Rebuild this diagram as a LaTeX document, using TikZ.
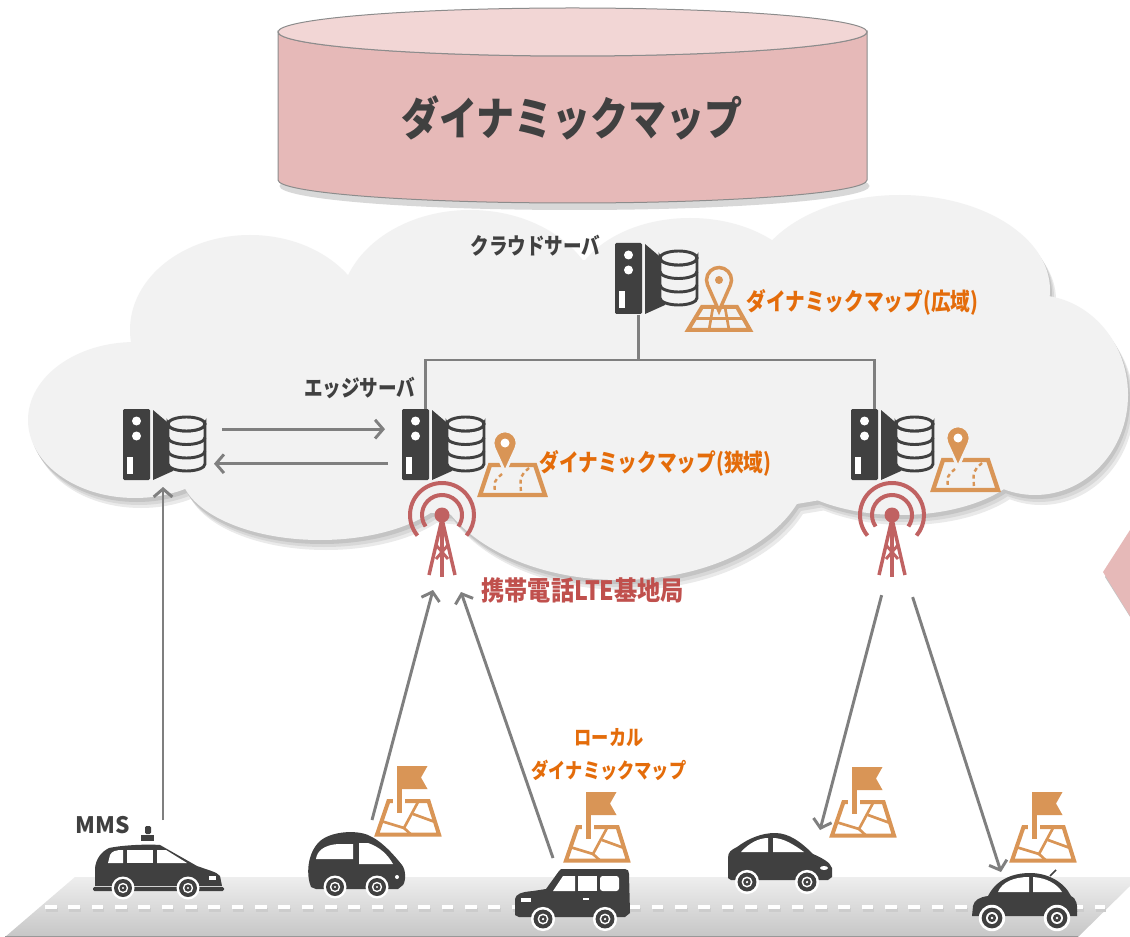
\documentclass[tikz,border=0pt]{standalone}
\usepackage{fontspec}
\usepackage{graphicx}
\setmainfont{Noto Sans CJK JP}
\usetikzlibrary{arrows.meta,calc}

\definecolor{icongray}{HTML}{404040}
\definecolor{linegray}{HTML}{7F7F7F}
\definecolor{cloudgray}{HTML}{F2F2F2}
\definecolor{shadowA}{HTML}{C4C4C4}
\definecolor{shadowB}{HTML}{D8D8D8}
\definecolor{shadowC}{HTML}{EAEAEA}
\definecolor{dbside}{HTML}{E6B9B8}
\definecolor{dbtop}{HTML}{F2D6D5}
\definecolor{dbrim}{HTML}{8C8C8C}
\definecolor{maporange}{HTML}{D99556}
\definecolor{textorange}{HTML}{E46C0A}
\definecolor{antred}{HTML}{C06262}
\definecolor{textred}{HTML}{C0504D}
\definecolor{roadtop}{HTML}{EEEEEE}
\definecolor{roadbot}{HTML}{C6C6C6}

% condensed lettering
\newcommand{\narrow}[2][0.82]{\scalebox{#1}[1]{#2}}

\tikzset{every picture/.style={line width=0.75pt}}
\tikzset{
  link/.style={draw=linegray, line width=2.2pt},
  flow/.style={link, -{Straight Barb[length=6pt,width=14pt]}},
  lbl/.style={inner sep=0pt, text=icongray, font=\bfseries\fontsize{17}{20}\selectfont},
  maplbl/.style={inner sep=0pt, text=textorange, font=\bfseries\fontsize{18}{22}\selectfont},
  wheel/.pic={
    \fill[white] (0,0) circle[radius=11.5];
    \fill[icongray] (0,0) circle[radius=9];
    \fill[white] (0,0) circle[radius=5.2];
    \fill[icongray] (0,0) circle[radius=3.6];
    \fill[white] (0,0) circle[radius=1.2];
  },
  server/.pic={
    \begin{scope}[yscale=-1]
    % tower
    \fill[icongray, rounded corners=1pt] (0,0) rectangle (27,71);
    \fill[white] (13.5,12) circle[radius=4.5] (13.5,27) circle[radius=4.5];
    \fill[white] (4,48) rectangle (9.5,65);
    % wedge
    \fill[icongray] (30,1) -- (50,18) -- (50,62) -- (30,71) -- cycle;
    % disks
    \filldraw[fill=cloudgray, draw=icongray, line width=2.2pt]
      (45,15) -- (45,55) arc[start angle=180, end angle=0, x radius=18.5, y radius=7]
      -- (82,15) arc[start angle=0, end angle=180, x radius=18.5, y radius=7] -- cycle;
    \filldraw[fill=cloudgray, draw=icongray, line width=2.2pt] (63.5,15) ellipse[x radius=18.5, y radius=7];
    \foreach \yy in {28.5,42}
      \draw[icongray, line width=2.2pt] (45,\yy) arc[start angle=180, end angle=0, x radius=18.5, y radius=7];
    \node[inner sep=0, minimum width=34.5pt, minimum height=53.25pt, anchor=north west] (-tw) at (0,0) {};
    \node[inner sep=0, minimum width=27.75pt, minimum height=53.25pt, anchor=north west] (-db) at (45,0) {};
    \end{scope}
  },
  lte/.pic={
    \begin{scope}[yscale=-1]
    \draw[antred, line width=3pt] (145:20) arc[start angle=145, end angle=395, radius=20];
    \draw[antred, line width=3pt] (140:32) arc[start angle=140, end angle=400, radius=32];
    \fill[antred] (0,0) circle[radius=7.5];
    \draw[antred, line width=2.6pt, line join=round] (-13,60) -- (0,4) -- (13,60);
    \draw[antred, line width=2.6pt] (0,4) -- (0,62);
    \draw[antred, line width=2.2pt] (-6,30) -- (6,44) (6,30) -- (-6,44);
    \coordinate (-l) at (-9,75);
    \coordinate (-r) at (19,77);
    \end{scope}
  },
  routemap/.pic={
    \begin{scope}[yscale=-1]
    \draw[maporange, line width=3.2pt] (-15,22) -- (30,22) -- (40,52) -- (-25,52) -- cycle;
    \draw[maporange, line width=1.8pt, dash pattern=on 3pt off 2.5pt] (-3,31) .. controls (-11,38) .. (-10,50);
    \draw[maporange, line width=1.8pt, dash pattern=on 3pt off 2.5pt] (24,25) .. controls (15,33) .. (16,50);
    \filldraw[fill=maporange, draw=cloudgray, line width=2pt] (0,29) -- (24.44:12) arc[start angle=24.44, end angle=-204.44, radius=12] -- cycle;
    \fill[white] (0,0) circle[radius=4.5];
    \end{scope}
  },
  gridmap/.pic={
    \begin{scope}[yscale=-1]
    \draw[maporange, line width=3pt] (-17,27) -- (18,27) -- (31,50) -- (-31,50) -- cycle;
    \draw[maporange, line width=2pt] (-24,38.5) -- (24.5,38.5);
    \draw[maporange, line width=2pt] (-6,27) -- (-10,50) (6,27) -- (10,50);
    \filldraw[fill=cloudgray, draw=maporange, line width=2.6pt] (0,31) -- (23.8:12.5) arc[start angle=23.8, end angle=-203.8, radius=12.5] -- cycle;
    \fill[maporange] (0,0) circle[radius=4];
    \end{scope}
  },
  flagmap/.pic={
    \begin{scope}[yscale=-1]
    \draw[maporange, line width=3pt] (-19.5,-35) -- (20.5,-35) -- (31,-1.5) -- (-31,-1.5) -- cycle;
    \draw[maporange, line width=2pt] (-27,-15) -- (-4,-8) -- (10,-34);
    \draw[maporange, line width=2pt] (-4,-8) -- (3,-1.5) (5,-22) -- (27,-14);
    \fill[white] (-15,-37) rectangle (-3,-21);
    \fill[maporange] (-11.5,-70) rectangle (-6.5,-23);
    \fill[maporange] (-6.5,-70) -- (19.5,-70) -- (13,-58.5) -- (19.5,-47) -- (-6.5,-47) -- cycle;
    \end{scope}
  }
}

\begin{document}
\begin{tikzpicture}[x=0.75pt,y=0.75pt,yscale=-1,xscale=1]
\useasboundingbox (0,0) rectangle (1130,937);
\fill[white] (0,0) rectangle (1130,937);

%Cloud: shadow, then body
\def\cloudlobes{135/420/107/78, 250/330/120/95, 470/310/130/100, 690/300/120/82, 900/290/150/95, 1035/395/93/100, 900/450/130/65, 620/460/190/120, 320/470/140/70, 580/390/450/130}
\foreach \dx/\dy/\shc in {6/10/shadowC, 4/7/shadowB, 2/4/shadowA}
  \foreach \cx/\cy/\rx/\ry in \cloudlobes
    \fill[\shc] (\cx+\dx,\cy+\dy) ellipse[x radius=\rx, y radius=\ry];
\foreach \cx/\cy/\rx/\ry in \cloudlobes
  \fill[cloudgray] (\cx,\cy) ellipse[x radius=\rx, y radius=\ry];

%Dynamic map cylinder
\fill[shadowB] (574.5,186) ellipse[x radius=295, y radius=24];
\filldraw[fill=dbside, draw=dbrim] (278,32) -- (278,180) arc[start angle=180, end angle=0, x radius=294.5, y radius=23]
  -- (867,32) arc[start angle=0, end angle=180, x radius=294.5, y radius=24] -- cycle;
\filldraw[fill=dbtop, draw=dbrim] (572.5,32) ellipse[x radius=294.5, y radius=24];
\node[text=icongray, font=\bfseries\fontsize{34}{40}\selectfont] (dmtitle) at (572,118) {\narrow[0.84]{ダイナミックマップ}};

%Servers
\pic (cs) at (615,243) {server};
\pic (el) at (123,409) {server};
\pic (em) at (402,409) {server};
\pic (er) at (851,409) {server};

%Cloud to edge links
\coordinate (bus) at (cs-tw.south |- 0,360);
\draw[link] (cs-tw.south) -- (bus);
\draw[link] (em-tw.north) |- (bus) -| (er-tw.north);

%Edge to edge
\draw[flow, shorten <=12pt, shorten >=12.75pt] ($(el-db.east)!.44!(el-db.north east)$) -- ($(em-tw.west)!.44!(em-tw.north west)$);
\draw[flow, shorten <=10.5pt, shorten >=6pt] ($(em-tw.west)!.52!(em-tw.south west)$) -- ($(el-db.east)!.52!(el-db.south east)$);

%Map icons
\pic at (719,280) {gridmap};
\pic at (505,443) {routemap};
\pic at (958,438) {routemap};

%Base stations
\pic (lte1) at (442,515) {lte};
\pic (lte2) at (892,515) {lte};

%Labels
\node[lbl, anchor=east] (cslbl) at (601,246) {\narrow{クラウドサーバ}};
\node[lbl, anchor=east] (edgelbl) at (416,388) {\narrow{エッジサーバ}};
\node[maplbl, anchor=west] (widelbl) at (746,302) {\narrow{ダイナミックマップ(広域)}};
\node[maplbl, anchor=west] (narrowlbl) at (539,463) {\narrow{ダイナミックマップ(狭域)}};
\node[inner sep=0pt, text=textred, font=\bfseries\fontsize{20}{24}\selectfont, anchor=west] (ltelbl) at (481,590) {\narrow[0.87]{携帯電話LTE基地局}};
\node[maplbl, font=\bfseries\fontsize{15.75}{19}\selectfont] (locallbl) at (609,738) {\narrow{ローカル}};
\node[maplbl, font=\bfseries\fontsize{15.75}{19}\selectfont] (locallbl2) at (609,770) {\narrow{ダイナミックマップ}};
\node[lbl, font=\bfseries\fontsize{17}{20}\selectfont] (mmslbl) at (103,825) {MMS};

%Road
\shade[top color=roadtop, bottom color=roadbot] (75,877) -- (1130,877) -- (1130,886) -- (1078,937) -- (5,937) -- cycle;
\draw[linegray!80, line width=1pt] (5,936.5) -- (1078,936.5);
\draw[gray!40, line width=3pt, dash pattern=on 8.75pt off 8.75pt] (46,909.5) -- (1106,909.5);
\draw[white, line width=3pt, dash pattern=on 8.75pt off 8.75pt] (45,907) -- (1105,907);

%Car MMS
\begin{scope}[shift={(93,892)}]
  \fill[icongray, rounded corners=1pt] (52,-66) rectangle (58,-58);
  \fill[icongray] (48,-57) rectangle (61,-51);
  \fill[icongray] (2,-6) -- (2,-24) .. controls (3,-33) and (8,-40) .. (16,-44) .. controls (30,-47) and (55,-48) .. (67,-47)
    -- (104,-26) .. controls (115,-22) and (124,-20) .. (127,-16) -- (129,-6) -- cycle;
  \fill[white] (15,-29) -- (17,-37) .. controls (19,-41) and (23,-42) .. (30,-42) -- (30,-29) -- cycle;
  \fill[white] (34,-42) rectangle (60,-29);
  \fill[white] (64,-42) -- (73,-42) -- (94,-29) -- (64,-29) -- cycle;
  \fill[white] (116,-16) rectangle (123,-12);
  \fill[icongray, rounded corners=1pt] (0,-5) rectangle (131,-1);
  \coordinate (mms) at (70,-72);
  \pic at (30,-4) {wheel};
  \pic at (95,-4) {wheel};
\end{scope}

%Car hatchback
\begin{scope}[shift={(308,897)}]
  \fill[icongray] (3,-10) .. controls (-2,-22) and (-1,-44) .. (12,-56) .. controls (24,-66) and (48,-67) .. (60,-62)
    .. controls (74,-56) and (86,-42) .. (94,-32) .. controls (98,-27) and (98,-16) .. (95,-12) -- (90,-8) -- (8,-8) -- cycle;
  \fill[white] (8,-38) .. controls (9,-46) and (16,-52) .. (30,-53) -- (45,-53) -- (45,-38) -- cycle;
  \fill[white] (51,-54) -- (60,-54) .. controls (72,-50) and (80,-42) .. (85,-33) -- (51,-33) -- cycle;
  \fill[white] (89,-20) circle[radius=2];
  \coordinate (car2) at (64,-77);
  \pic at (27,-10) {wheel};
  \pic at (69,-10) {wheel};
\end{scope}

%Car minivan
\begin{scope}[shift={(513,925)}]
  \fill[icongray] (2,-10) -- (2,-26) .. controls (3,-31) and (8,-33) .. (20,-34) -- (33,-36) -- (46,-54)
    .. controls (47,-56) and (48,-56) .. (52,-56) -- (112,-56) .. controls (115,-56) and (116,-54) .. (116,-51)
    -- (117,-12) -- (112,-8) -- (6,-8) -- cycle;
  \fill[white] (50,-49) -- (62,-49) -- (62,-34) -- (40,-34) -- cycle;
  \fill[white] (65,-49) rectangle (84,-34);
  \fill[white, rounded corners=2pt] (87,-49) rectangle (106,-34);
  \fill[white] (70,-27) rectangle (76,-25);
  \fill[white] (8,-27) rectangle (18,-23);
  \coordinate (car3) at (40,-67);
  \pic[scale=1.05] at (30,-6) {wheel};
  \pic[scale=1.05] at (92,-6) {wheel};
\end{scope}

%Car sedan
\begin{scope}[shift={(727,890)}]
  \fill[icongray] (1,-12) -- (1,-32) .. controls (1,-38) and (4,-40) .. (10,-43) .. controls (22,-52) and (35,-57) .. (48,-57)
    .. controls (62,-57) and (74,-48) .. (86,-36) .. controls (95,-32) and (103,-28) .. (105,-22) -- (105,-13) -- (101,-10) -- (4,-10) -- cycle;
  \fill[white] (14,-38) .. controls (22,-47) and (32,-52) .. (41,-52) -- (41,-38) -- cycle;
  \fill[white] (46,-52) .. controls (56,-52) and (66,-46) .. (77,-38) -- (46,-38) -- cycle;
  \fill[white] (97,-22) ellipse[x radius=4, y radius=2];
  \coordinate (car4) at (93,-60);
  \pic[scale=1.05] at (20,-8) {wheel};
  \pic[scale=1.05] at (80,-8) {wheel};
\end{scope}

%Car beetle
\begin{scope}[shift={(972,930)}]
  \draw[icongray, line width=1.2pt] (78,-54) -- (84,-60);
  \fill[icongray] (0,-14) -- (1,-24) .. controls (2,-30) and (8,-33) .. (16,-34) .. controls (24,-50) and (40,-57) .. (58,-57)
    .. controls (76,-57) and (92,-48) .. (99,-34) .. controls (104,-32) and (106,-26) .. (105,-14) -- cycle;
  \fill[white] (26,-38) .. controls (30,-48) and (42,-53) .. (57,-53) -- (57,-38) -- cycle;
  \fill[white] (61,-53) .. controls (75,-52) and (85,-46) .. (90,-38) -- (61,-38) -- cycle;
  \coordinate (car5) at (29,-58);
  \pic[scale=1.15] at (20,-12) {wheel};
  \pic[scale=1.15] at (85,-12) {wheel};
\end{scope}

%Uplinks and downlinks
\draw[flow, shorten >=4.5pt] (mms) -- (mms |- el-tw.south);
\draw[flow] (car2) -- (lte1-l);
\draw[flow] (car3) -- (lte1-r);
\draw[flow, shorten <=4pt] (lte2-l) -- (car4);
\draw[flow, shorten <=4pt] (lte2-r) -- (car5);

%Local maps
\pic at (408,836) {flagmap};
\pic at (597,862) {flagmap};
\pic at (863,837) {flagmap};
\pic at (1043,862) {flagmap};

%Side pointer
\fill[shadowA] (1132,534) -- (1105,577) -- (1132,620) -- cycle;
\fill[dbside] (1130,530) -- (1103,572) -- (1130,616) -- cycle;
\end{tikzpicture}
\end{document}
